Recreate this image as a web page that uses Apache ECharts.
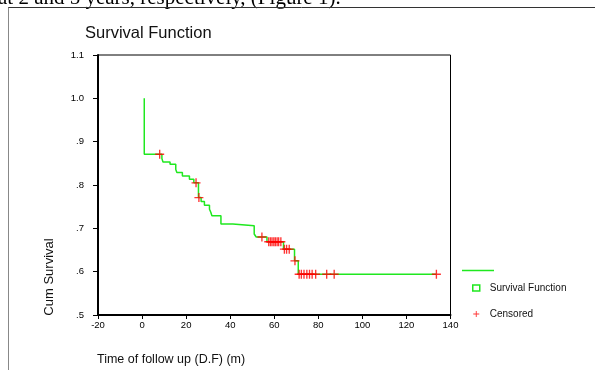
<!DOCTYPE html>
<html>
<head>
<meta charset="utf-8">
<script src="https://cdn.jsdelivr.net/npm/echarts@6/dist/echarts.min.js"></script>
<style>
  html, body { margin: 0; padding: 0; background: #fff; }
  #chart { width: 595px; height: 370px; }
</style>
</head>
<body>
<div id="chart"></div>
<script>
// Kaplan-Meier step points (time in months, cumulative survival after that time)
const stepTimes = [1, 1, 9, 9.5, 12.7, 15.3, 15.8, 18.3, 21.5, 23.5, 25.6, 26.8, 28.3, 30.6, 31.2, 31.7,
  35.8, 41.2, 50.9, 51.8, 56.7, 64.2, 69.2, 70.9, 133.6];
const stepSurv = [1.0, 0.871, 0.861, 0.853, 0.848, 0.836, 0.829, 0.821, 0.813, 0.805, 0.771, 0.762, 0.753, 0.744, 0.737, 0.729,
  0.710, 0.706, 0.687, 0.680, 0.669, 0.652, 0.625, 0.594, 0.594];

// censored cases
const censorTimes = [8, 24.5, 25.8, 54.4,
  57.5, 58.3, 59, 59.8, 60.5, 61.3, 62, 63,
  64.6, 65.6, 66.8,
  69.4,
  71.3, 72.3, 73.5, 74.8, 76, 77.2, 78.8, 83.8, 87.2, 133.6];
const censorSurv = [0.871, 0.805, 0.771, 0.680,
  0.669, 0.669, 0.669, 0.669, 0.669, 0.669, 0.669, 0.669,
  0.652, 0.652, 0.652,
  0.625,
  0.594, 0.594, 0.594, 0.594, 0.594, 0.594, 0.594, 0.594, 0.594, 0.594];

const xTicks = { min: -20, max: 140, step: 20 };
const yTicks = { min: 0.5, max: 1.1, step: 0.1 };

const plus = "path://M4.25,0H5.75V4.25H10V5.75H5.75V10H4.25V5.75H0V4.25H4.25Z";
const green = "#1fe81f";
const font = "Liberation Sans, Arial, sans-serif";

const chart = echarts.init(document.getElementById("chart"));

chart.setOption({
  animation: false,
  backgroundColor: "#fff",
  grid: {
    left: 98, right: 144.5, top: 55, bottom: 55,
    show: true, borderColor: "#000", borderWidth: 1
  },
  xAxis: {
    type: "value",
    min: xTicks.min, max: xTicks.max, interval: xTicks.step,
    axisLine: { onZero: false, lineStyle: { color: "#000", width: 2 } },
    axisTick: { show: true, length: 4, lineStyle: { color: "#000" } },
    axisLabel: { color: "#000", fontSize: 9.5, fontFamily: font, margin: 5 },
    splitLine: { show: false }
  },
  yAxis: {
    type: "value",
    min: yTicks.min, max: yTicks.max, interval: yTicks.step,
    axisLine: { show: true, onZero: false, lineStyle: { color: "#000", width: 2 } },
    axisTick: { show: true, length: 5, lineStyle: { color: "#000" } },
    axisLabel: {
      color: "#000", fontSize: 9.5, fontFamily: font, margin: 14,
      formatter: (v) => {
        const s = (Math.round(v * 10) / 10).toFixed(1);
        return v < 1 ? s.replace(/^0/, "") : s;
      }
    },
    splitLine: { show: false }
  },
  legend: {
    orient: "vertical",
    left: 467, top: 277,
    itemWidth: 7, itemHeight: 6,
    itemGap: 14,
    textStyle: { fontSize: 10, fontFamily: font, color: "#111", padding: [0, 0, 0, 5], lineHeight: 12 },
    data: [
      { name: "Survival Function", icon: "rect", itemStyle: { color: "#fff", borderColor: green, borderWidth: 1.5 } },
      { name: "Censored", icon: plus, itemStyle: { color: "#ff0000" } }
    ]
  },
  series: [
    {
      name: "Survival Function",
      type: "line",
      step: "end",
      symbol: "none",
      lineStyle: { color: green, width: 1.5 },
      itemStyle: { color: green },
      data: stepTimes.map((t, i) => [t, stepSurv[i]]),
      z: 2
    },
    {
      name: "Censored",
      type: "scatter",
      symbol: plus,
      symbolSize: 9,
      itemStyle: { color: "#ff0000" },
      data: censorTimes.map((t, i) => [t, censorSurv[i]]),
      z: 3
    }
  ],
  graphic: [
    {
      type: "text", left: -2, top: -12, z: 1,
      style: { text: "at 2 and 5 years, respectively, (Figure 1).", font: "21px 'Liberation Serif', 'Times New Roman', serif", fill: "#000" }
    },
    { type: "line", z: 5, shape: { x1: 8, y1: 7.5, x2: 595, y2: 7.5 }, style: { stroke: "#333", lineWidth: 1 } },
    { type: "line", z: 5, shape: { x1: 8.5, y1: 7.5, x2: 8.5, y2: 370 }, style: { stroke: "#888", lineWidth: 1 } },
    {
      type: "text", left: 85, top: 25,
      style: { text: "Survival Function", font: "16.5px " + font, fill: "#111" }
    },
    {
      type: "text", x: 49, y: 277, rotation: Math.PI / 2,
      style: { text: "Cum Survival", font: "13px " + font, fill: "#111", align: "center", verticalAlign: "middle" }
    },
    {
      type: "text", left: 97, top: 353,
      style: { text: "Time of follow up (D.F) (m)", font: "12.5px " + font, fill: "#111" }
    },
    { type: "line", shape: { x1: 462, y1: 270.5, x2: 494, y2: 270.5 }, style: { stroke: green, lineWidth: 1.5 } }
  ]
});
</script>
</body>
</html>
